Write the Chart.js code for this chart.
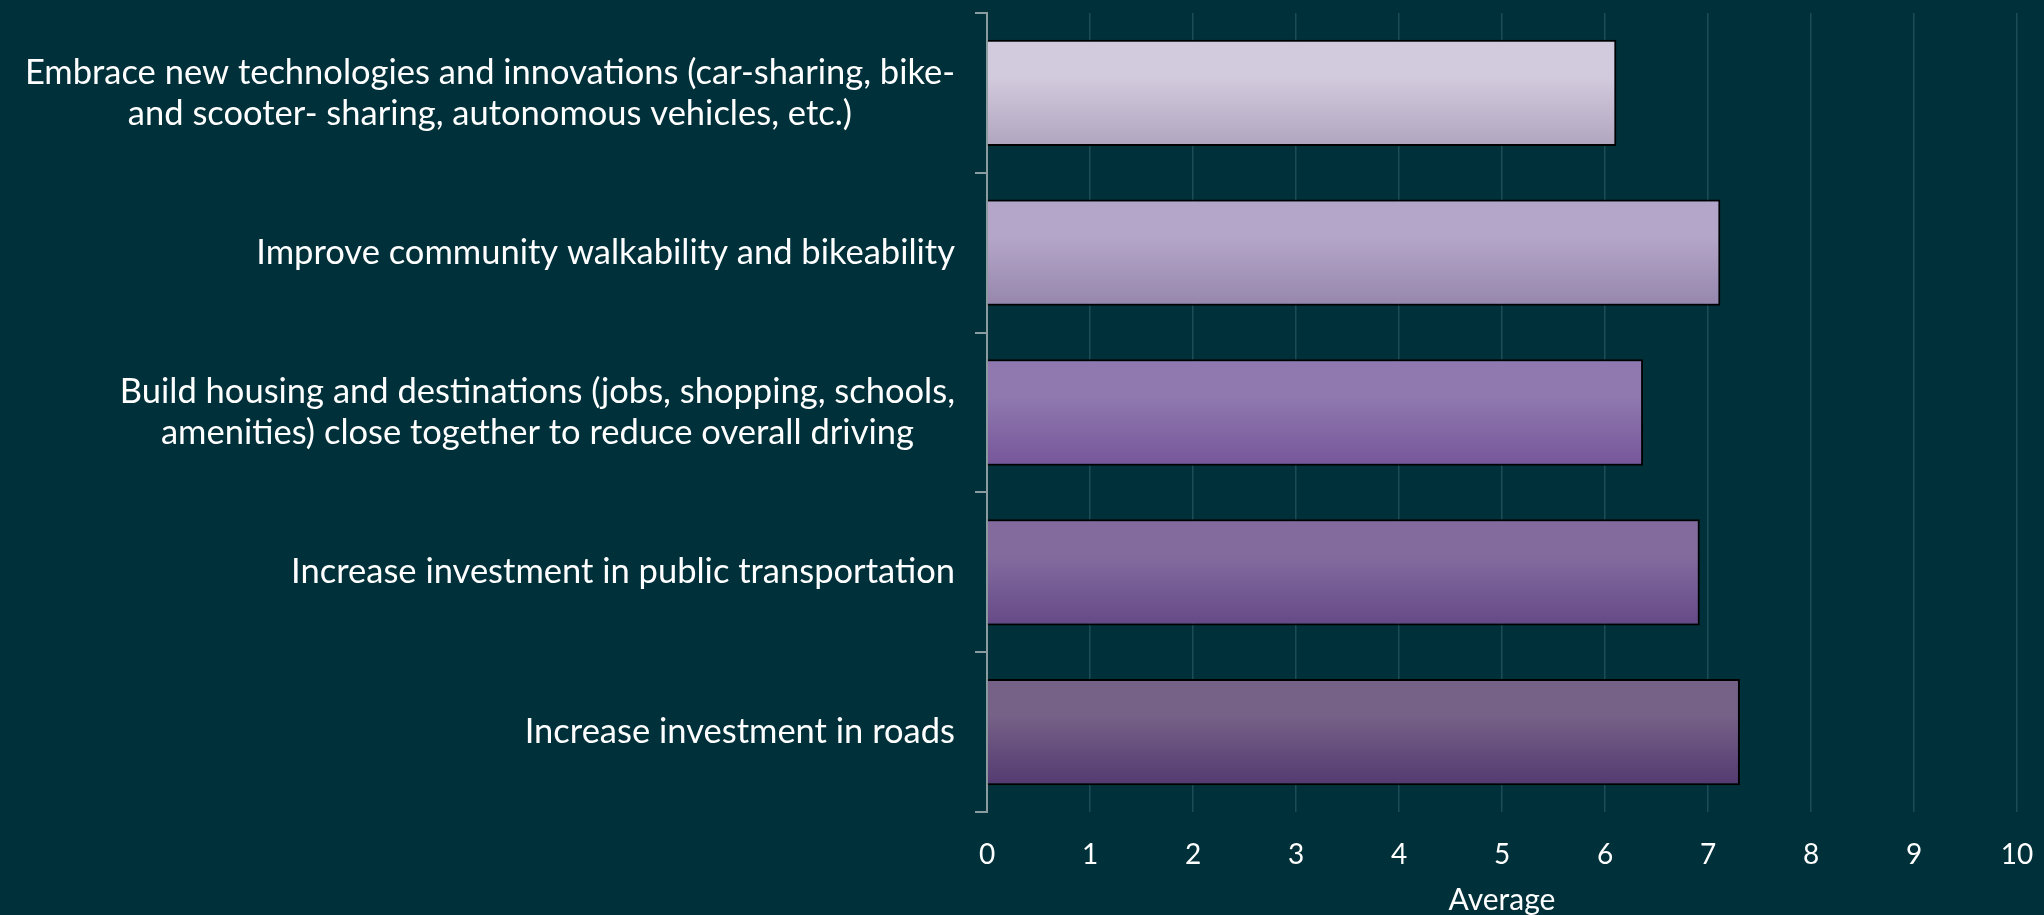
<!DOCTYPE html>
<html>
<head>
<meta charset="utf-8">
<script src="https://cdn.jsdelivr.net/npm/chart.js@4"></script>
<style>
  html, body { margin: 0; padding: 0; background: #00313a; }
  #wrap { width: 2044px; height: 915px; position: relative; }
</style>
</head>
<body>
<div id="wrap"><canvas id="chart"></canvas></div>
<script>
// categories (each entry = lines of the label)
const categories = [
    ['Embrace new technologies and innovations (car-sharing, bike-', 'and scooter- sharing, autonomous vehicles, etc.)'],
    ['Improve community walkability and bikeability'],
    ['Build housing and destinations (jobs, shopping, schools,', 'amenities) close together to reduce overall driving'],
    ['Increase investment in public transportation'],
    ['Increase investment in roads']
];
const averages = [6.11, 7.12, 6.37, 6.92, 7.31];
const xTicks = [0, 1, 2, 3, 4, 5, 6, 7, 8, 9, 10];

// gradient colours per bar (top, bottom)
const topColors = ['#d2cadd', '#b4a6c9', '#8f79af', '#836b9e', '#766187'];
const bottomColors = ['#b0a5bf', '#9686ac', '#76569a', '#654987', '#533a71'];

const labelFont = '34.5px Lato';
const labelLineHeight = 41;

// draws the category labels: block right-aligned, lines centred inside it
const categoryLabels = {
    id: 'categoryLabels',
    afterDraw(chart) {
        const ctx = chart.ctx;
        const yScale = chart.scales.y;
        const right = yScale.right - 32;
        ctx.save();
        ctx.font = labelFont;
        ctx.fillStyle = '#ffffff';
        ctx.textAlign = 'center';
        ctx.textBaseline = 'middle';
        categories.forEach((lines, i) => {
            const cy = yScale.getPixelForValue(i);
            const widest = Math.max(...lines.map(l => ctx.measureText(l).width));
            const cx = right - widest / 2;
            const y0 = cy - (lines.length - 1) * labelLineHeight / 2;
            lines.forEach((l, j) => ctx.fillText(l, cx, y0 + j * labelLineHeight));
        });
        ctx.restore();
    }
};

const ctx = document.getElementById('chart').getContext('2d');

new Chart(ctx, {
    type: 'bar',
    data: {
        labels: categories,
        datasets: [{
            label: 'Average',
            data: averages,
            backgroundColor: (c) => {
                const chart = c.chart;
                if (!chart.chartArea) return topColors[c.dataIndex];
                const yScale = chart.scales.y;
                const cy = yScale.getPixelForValue(c.dataIndex);
                const half = (chart.chartArea.height / categories.length) * 0.665 / 2;
                const g = chart.ctx.createLinearGradient(0, cy - half, 0, cy + half);
                g.addColorStop(0, topColors[c.dataIndex]);
                g.addColorStop(0.35, topColors[c.dataIndex]);
                g.addColorStop(1, bottomColors[c.dataIndex]);
                return g;
            },
            borderColor: '#000000',
            borderWidth: 2,
            categoryPercentage: 1,
            barPercentage: 0.665
        }]
    },
    options: {
        indexAxis: 'y',
        responsive: true,
        maintainAspectRatio: false,
        animation: false,
        layout: { padding: { top: 13, right: 15, bottom: 0, left: 0 } },
        plugins: {
            legend: { display: false },
            tooltip: { enabled: false }
        },
        scales: {
            x: {
                min: 0,
                max: 10,
                afterBuildTicks: (scale) => { scale.ticks = xTicks.map(v => ({ value: v })); },
                afterFit: (scale) => {
                    scale.height = 103;
                    scale.paddingLeft = 0;
                    scale.paddingRight = 27;
                },
                ticks: { color: '#ffffff', font: { family: 'Lato', size: 28 }, padding: 26 },
                grid: { color: '#1c4c54', lineWidth: 1.5, drawTicks: false },
                border: { display: false },
                title: {
                    display: true,
                    text: 'Average',
                    color: '#ffffff',
                    font: { family: 'Lato', size: 30, lineHeight: 1 },
                    padding: { top: 6, bottom: 0 }
                }
            },
            y: {
                afterFit: (scale) => { scale.width = 987; },
                ticks: { display: false },
                grid: {
                    offset: true,
                    drawOnChartArea: false,
                    drawTicks: true,
                    tickLength: 12,
                    color: '#8a9c9f',
                    lineWidth: 2
                },
                border: { color: '#8a9c9f', width: 2 }
            }
        }
    },
    plugins: [categoryLabels]
});
</script>
</body>
</html>
